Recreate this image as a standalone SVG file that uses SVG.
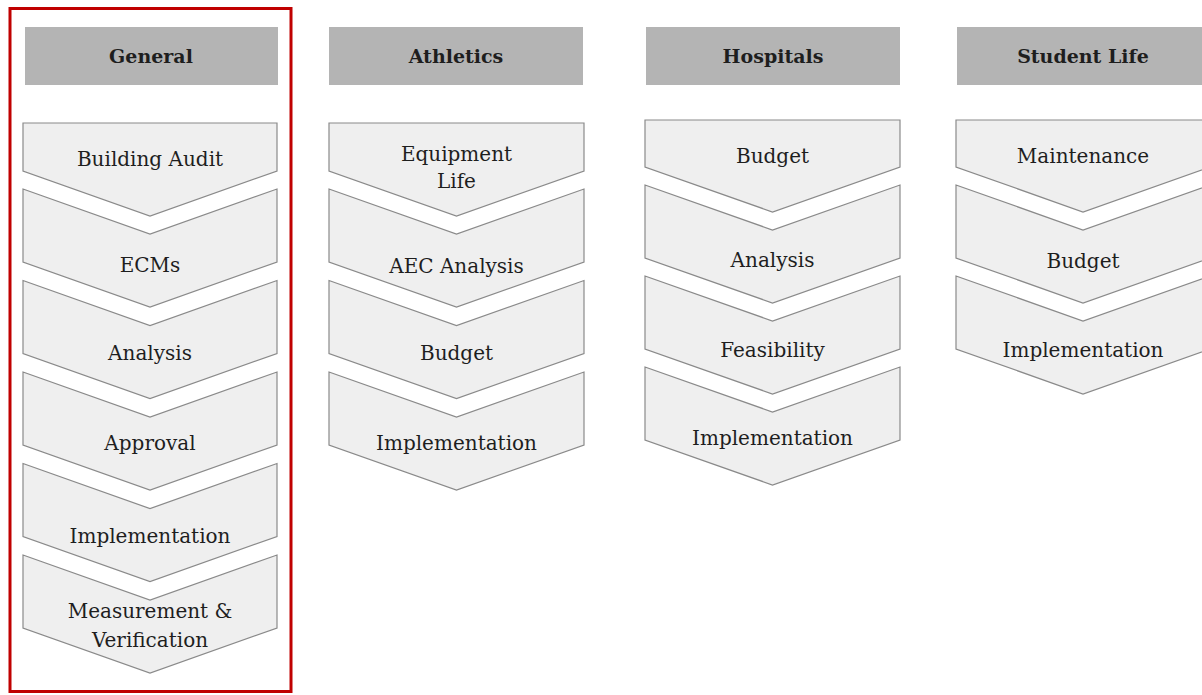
<svg xmlns="http://www.w3.org/2000/svg" width="1202" height="695" viewBox="0 0 1202 695">
<style>
.hdr{fill:#b4b4b4;stroke:none}
.hdrt{font-family:"DejaVu Serif",serif;font-weight:bold;font-size:19px;fill:#1e1e1e;text-anchor:middle}
.chev{fill:#efefef;stroke:#8a8a8a;stroke-width:1.2;stroke-linejoin:miter}
.lbl{font-family:"DejaVu Serif",serif;font-size:20px;fill:#1e1e1e;text-anchor:middle}
.sel{fill:none;stroke:#c00000;stroke-width:3}
</style>
<rect width="1202" height="695" fill="#ffffff"/>
<rect id="selection" class="sel" x="10" y="8.5" width="281" height="683"/>

<!-- General column -->
<g id="general">
  <g id="general-header"><rect class="hdr" x="25" y="27" width="253" height="58"/><text class="hdrt" x="151" y="63">General</text></g>
  <g id="general-1"><polygon class="chev" points="23,123 277,123 277,171 150,216 23,171"/><text class="lbl" x="150" y="166">Building Audit</text></g>
  <g id="general-2"><polygon class="chev" points="23,189 150,234 277,189 277,262 150,307 23,262"/><text class="lbl" x="150" y="272">ECMs</text></g>
  <g id="general-3"><polygon class="chev" points="23,280.5 150,325.5 277,280.5 277,353.5 150,398.5 23,353.5"/><text class="lbl" x="150" y="360">Analysis</text></g>
  <g id="general-4"><polygon class="chev" points="23,372 150,417 277,372 277,445 150,490 23,445"/><text class="lbl" x="150" y="450">Approval</text></g>
  <g id="general-5"><polygon class="chev" points="23,463.5 150,508.5 277,463.5 277,536.5 150,581.5 23,536.5"/><text class="lbl" x="150" y="543">Implementation</text></g>
  <g id="general-6"><polygon class="chev" points="23,555 150,600 277,555 277,628 150,673 23,628"/><text class="lbl" x="150" y="618">Measurement &amp;</text><text class="lbl" x="150" y="647">Verification</text></g>
</g>

<!-- Athletics column -->
<g id="athletics">
  <g id="athletics-header"><rect class="hdr" x="329" y="27" width="254" height="58"/><text class="hdrt" x="456" y="63">Athletics</text></g>
  <g id="athletics-1"><polygon class="chev" points="329,123 584,123 584,171 456.5,216 329,171"/><text class="lbl" x="456.5" y="161">Equipment</text><text class="lbl" x="456.5" y="188">Life</text></g>
  <g id="athletics-2"><polygon class="chev" points="329,189 456.5,234 584,189 584,262 456.5,307 329,262"/><text class="lbl" x="456.5" y="273">AEC Analysis</text></g>
  <g id="athletics-3"><polygon class="chev" points="329,280.5 456.5,325.5 584,280.5 584,353.5 456.5,398.5 329,353.5"/><text class="lbl" x="456.5" y="360">Budget</text></g>
  <g id="athletics-4"><polygon class="chev" points="329,372 456.5,417 584,372 584,445 456.5,490 329,445"/><text class="lbl" x="456.5" y="450">Implementation</text></g>
</g>

<!-- Hospitals column -->
<g id="hospitals">
  <g id="hospitals-header"><rect class="hdr" x="646" y="27" width="254" height="58"/><text class="hdrt" x="773" y="63">Hospitals</text></g>
  <g id="hospitals-1"><polygon class="chev" points="645,120 900,120 900,167 772.5,212 645,167"/><text class="lbl" x="772.5" y="163">Budget</text></g>
  <g id="hospitals-2"><polygon class="chev" points="645,185 772.5,230 900,185 900,258 772.5,303 645,258"/><text class="lbl" x="772.5" y="267">Analysis</text></g>
  <g id="hospitals-3"><polygon class="chev" points="645,276 772.5,321 900,276 900,349 772.5,394 645,349"/><text class="lbl" x="772.5" y="357">Feasibility</text></g>
  <g id="hospitals-4"><polygon class="chev" points="645,367 772.5,412 900,367 900,440 772.5,485 645,440"/><text class="lbl" x="772.5" y="445">Implementation</text></g>
</g>

<!-- Student Life column -->
<g id="student-life">
  <g id="student-life-header"><rect class="hdr" x="957" y="27" width="254" height="58"/><text class="hdrt" x="1083" y="63">Student Life</text></g>
  <g id="student-life-1"><polygon class="chev" points="956,120 1210,120 1210,167 1083,212 956,167"/><text class="lbl" x="1083" y="163">Maintenance</text></g>
  <g id="student-life-2"><polygon class="chev" points="956,185 1083,230 1210,185 1210,258 1083,303 956,258"/><text class="lbl" x="1083" y="268">Budget</text></g>
  <g id="student-life-3"><polygon class="chev" points="956,276 1083,321 1210,276 1210,349 1083,394 956,349"/><text class="lbl" x="1083" y="357">Implementation</text></g>
</g>

<g id="connectors"></g>
</svg>
